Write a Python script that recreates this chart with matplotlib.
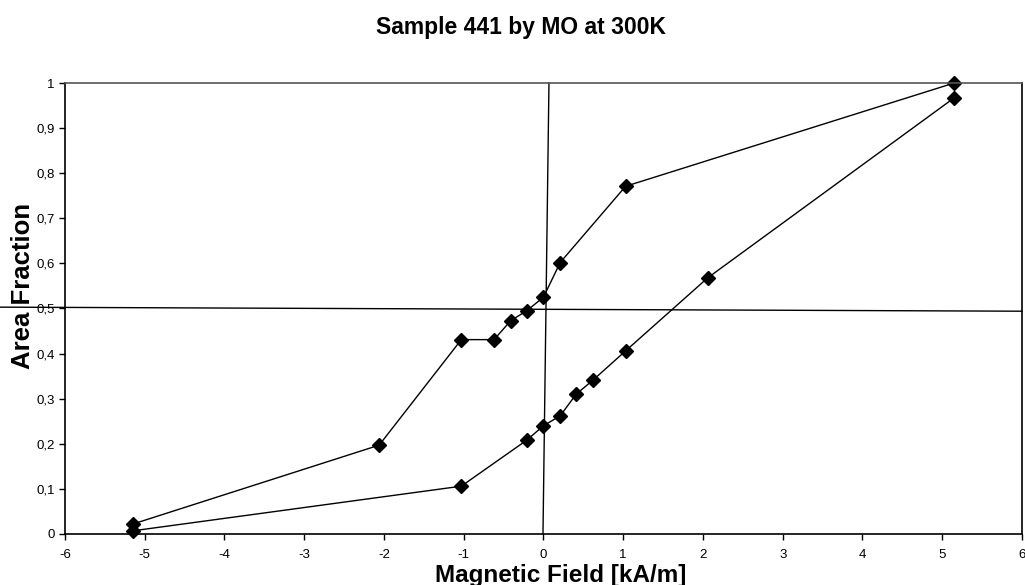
import numpy as np
import matplotlib
matplotlib.use('Agg')
from matplotlib import pyplot as plt

plt.rcParams['font.family'] = ['Liberation Sans', 'DejaVu Sans']
plt.rcParams['axes.unicode_minus'] = False

# upper branch
field_up = [-5.15, -2.06, -1.03, -0.62, -0.41, -0.21, 0.0, 0.21, 1.03, 5.15]
frac_up = [0.022, 0.197, 0.431, 0.431, 0.473, 0.495, 0.525, 0.602, 0.771, 1.0]
# lower branch
field_low = [-5.15, -1.03, -0.21, 0.0, 0.21, 0.41, 0.62, 1.03, 2.06, 5.15]
frac_low = [0.007, 0.106, 0.208, 0.240, 0.262, 0.310, 0.341, 0.406, 0.568, 0.967]

# hand drawn cross lines
vline_x = [0.069, -0.006]
vline_y = [1.0, 0.0]
hline_x = [-6.82, 6.0]
hline_y = [0.503, 0.494]

xticks = [-6, -5, -4, -3, -2, -1, 0, 1, 2, 3, 4, 5, 6]
yticks = [0, 0.1, 0.2, 0.3, 0.4, 0.5, 0.6, 0.7, 0.8, 0.9, 1.0]
ytick_labels = ['0', '0,1', '0,2', '0,3', '0,4', '0,5', '0,6', '0,7', '0,8', '0,9', '1']

fig = plt.figure(figsize=(10.25, 5.85), dpi=100)
ax = fig.add_axes([0.0634, 0.0872, 0.9336, 0.7709])

ax.plot(field_up, frac_up, color='black', lw=1, marker='D', ms=7, clip_on=False)
ax.plot(field_low, frac_low, color='black', lw=1, marker='D', ms=7, clip_on=False)
ax.plot(vline_x, vline_y, color='black', lw=1, clip_on=False)
ax.plot(hline_x, hline_y, color='black', lw=1, clip_on=False)

ax.set_xlim(-6, 6)
ax.set_ylim(0, 1)
ax.set_xticks(xticks)
ax.set_yticks(yticks)
ax.set_yticklabels(ytick_labels)
ax.tick_params(direction='out', length=4, width=1, labelsize=9.5, colors='black')
ax.tick_params(axis='x', pad=7)
for s in ax.spines.values():
    s.set_linewidth(1.2)
ax.spines['top'].set_color('#555555')

fig.text(0.547, 0.017, 'Magnetic Field [kA/m]', ha='center', va='center',
         fontsize=17.5, fontweight='bold')
fig.text(0.022, 0.511, 'Area Fraction', ha='center', va='center', rotation=90,
         fontsize=18.5, fontweight='bold')
fig.text(0.508, 0.953, 'Sample 441 by MO at 300K', ha='center', va='center',
         fontsize=16.5, fontweight='bold')

plt.savefig('out.png', dpi=100)
